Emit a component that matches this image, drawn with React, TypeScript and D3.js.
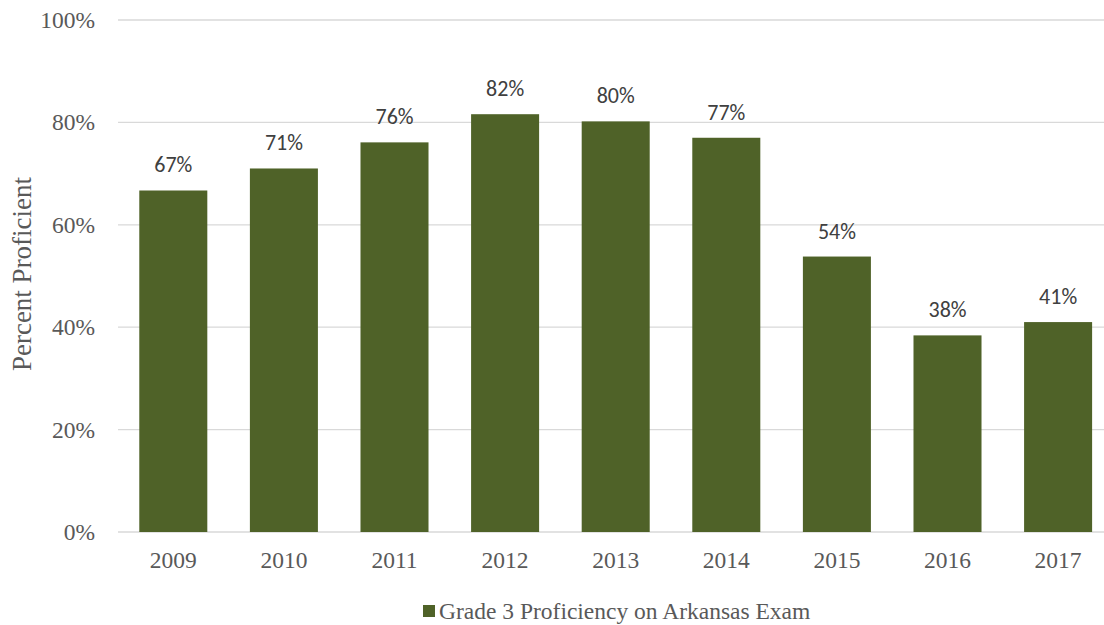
import * as d3 from 'd3';
import { useRef, useEffect } from 'react';

const years = ['2009', '2010', '2011', '2012', '2013', '2014', '2015', '2016', '2017'];
const proficiency = [66.7, 71.0, 76.1, 81.6, 80.2, 77.0, 53.8, 38.4, 41.0];
const yTicks = [0, 20, 40, 60, 80, 100];
const seriesName = 'Grade 3 Proficiency on Arkansas Exam';

const W = 1104;
const H = 625;
const BAR = '#4F6228';
const TEXT = '#595959';
const SERIF = '"Liberation Serif", "Times New Roman", serif';
const SANS = 'Carlito, Lato, "Liberation Sans", sans-serif';

export default function App() {
  const svgRef = useRef<SVGSVGElement>(null);

  useEffect(() => {
    const svg = d3.select(svgRef.current);
    svg.selectAll('*').remove();

    const x = d3.scaleBand<string>()
      .domain(years)
      .range([118, 118 + 110.6 * years.length])
      .paddingInner(0.385)
      .paddingOuter(0.1925);

    const y = d3.scaleLinear().domain([0, 100]).range([532, 20]);

    // gridlines
    svg.append('g')
      .selectAll('line')
      .data(yTicks)
      .join('line')
      .attr('x1', 118)
      .attr('x2', W)
      .attr('y1', d => y(d))
      .attr('y2', d => y(d))
      .attr('stroke', '#d9d9d9')
      .attr('stroke-width', 1.3);

    // y tick labels
    svg.append('g')
      .selectAll('text')
      .data(yTicks)
      .join('text')
      .attr('x', 95)
      .attr('y', d => y(d) + 8)
      .attr('text-anchor', 'end')
      .style('font-family', SERIF)
      .style('font-size', '23.5px')
      .style('fill', TEXT)
      .text(d => `${d}%`);

    // y axis title
    svg.append('text')
      .attr('transform', `translate(31, ${y(50) - 2}) rotate(-90)`)
      .attr('text-anchor', 'middle')
      .style('font-family', SERIF)
      .style('font-size', '27px')
      .style('fill', TEXT)
      .text('Percent Proficient');

    // bars
    svg.append('g')
      .selectAll('rect')
      .data(proficiency)
      .join('rect')
      .attr('x', (d, i) => x(years[i])!)
      .attr('y', d => y(d))
      .attr('width', x.bandwidth())
      .attr('height', d => y(0) - y(d))
      .attr('fill', BAR);

    // value labels
    svg.append('g')
      .selectAll('text')
      .data(proficiency)
      .join('text')
      .attr('x', (d, i) => x(years[i])! + x.bandwidth() / 2)
      .attr('y', d => y(d) - 18)
      .attr('text-anchor', 'middle')
      .style('font-family', SANS)
      .style('font-size', '22px')
      .style('fill', '#404040')
      .text(d => `${Math.round(d)}%`);

    // x labels
    svg.append('g')
      .selectAll('text')
      .data(years)
      .join('text')
      .attr('x', d => x(d)! + x.bandwidth() / 2)
      .attr('y', 568)
      .attr('text-anchor', 'middle')
      .style('font-family', SERIF)
      .style('font-size', '23.5px')
      .style('fill', TEXT)
      .text(d => d);

    // legend
    const legend = svg.append('g');
    legend.append('rect')
      .attr('x', 423)
      .attr('y', 605)
      .attr('width', 12)
      .attr('height', 12)
      .attr('fill', BAR);
    legend.append('text')
      .attr('x', 439)
      .attr('y', 619)
      .style('font-family', SERIF)
      .style('font-size', '23.5px')
      .style('fill', TEXT)
      .text(seriesName);
  }, []);

  return (
    <div style={{ position: 'fixed', left: 0, top: 0, width: W, height: H, background: '#fff' }}>
      <svg ref={svgRef} width={W} height={H}></svg>
    </div>
  );
}
